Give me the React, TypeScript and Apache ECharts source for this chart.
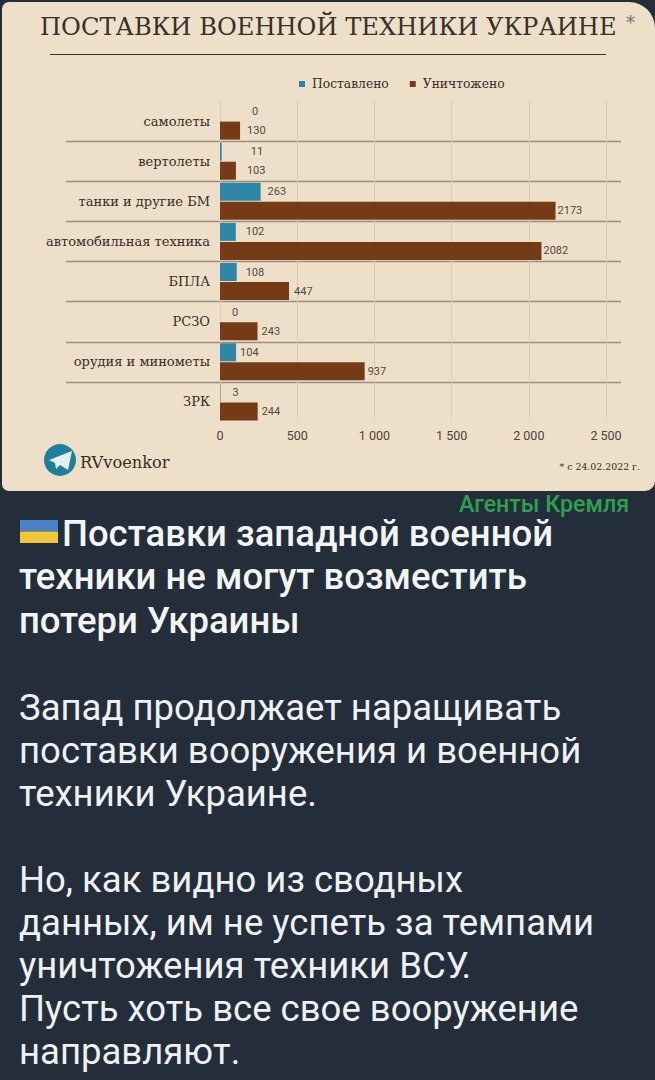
import React, { useEffect, useRef } from "react";
import * as echarts from "echarts";

const categories = ["самолеты", "вертолеты", "танки и другие БМ", "автомобильная техника", "БПЛА", "РСЗО", "орудия и минометы", "ЗРК"];
const delivered = [0, 11, 263, 102, 108, 0, 104, 3];
const destroyed = [130, 103, 2173, 2082, 447, 243, 937, 244];
const deliveredLabelGap = [32, 29, 7, 10, 9, 12, 4, 12];
const destroyedLabelGap = [7, 11, 2, 2, 5, 4, 3, 4];
const seriesNames = ["Поставлено", "Уничтожено"];
const title = "ПОСТАВКИ ВОЕННОЙ ТЕХНИКИ УКРАИНЕ";
const boldLines = ["Поставки западной военной", "техники не могут возместить", "потери Украины"];
const bodyLines = [
  "Запад продолжает наращивать",
  "поставки вооружения и военной",
  "техники Украине.",
  "",
  "Но, как видно из сводных",
  "данных, им не успеть за темпами",
  "уничтожения техники ВСУ.",
  "Пусть хоть все свое вооружение",
  "направляют.",
];

const SLAB = "'DejaVu Serif', serif";
const SANS = "Roboto, sans-serif";
const INK = "#332e27";

export default function App() {
  const ref = useRef<HTMLDivElement>(null);
  useEffect(() => {
    document.body.style.margin = "0";
    const chart = echarts.init(ref.current!, undefined, { renderer: "svg" });
    const txt = (text: string, x: number, y: number, font: any) => ({
      type: "text",
      x,
      y,
      silent: true,
      style: { text, fill: INK, fontFamily: SLAB, verticalAlign: "middle", ...font },
    });
    const mk = (vals: number[], gaps: number[]) =>
      vals.map((value, i) => ({ value, label: { distance: gaps[i] } }));
    const barLabel = {
      show: true,
      position: "right",
      fontFamily: SANS,
      fontSize: 11,
      color: "#4f4a44",
    };
    chart.setOption({
      animation: false,
      backgroundColor: "#232e3a",
      legend: {
        left: 294,
        top: 73,
        itemWidth: 6,
        itemHeight: 6,
        itemGap: 21,
        icon: "rect",
        selectedMode: false,
        data: seriesNames,
        textStyle: { fontFamily: SLAB, fontSize: 12.3, color: INK, padding: [0, 0, 0, 2] },
      },
      grid: [
        { left: 220, top: 101, width: 386, height: 321 },
        { left: 66, top: 101, width: 555, height: 321 },
      ],
      xAxis: [
        {
          type: "value",
          gridIndex: 0,
          min: 0,
          max: 2500,
          interval: 500,
          axisLine: { show: false },
          axisTick: { show: false },
          splitLine: { lineStyle: { color: "#dccdb7", width: 1 } },
          axisLabel: {
            margin: 7,
            fontFamily: SANS,
            fontSize: 12.5,
            color: "#4a453e",
            formatter: (v: number) => (v >= 1000 ? `${Math.floor(v / 1000)} ${String(v % 1000).padStart(3, "0")}` : `${v}`),
          },
        },
        { type: "value", gridIndex: 1, min: 0, max: 1, show: false },
      ],
      yAxis: [
        {
          type: "category",
          gridIndex: 0,
          inverse: true,
          data: categories,
          axisLine: { show: false },
          axisTick: { show: false },
          splitLine: { show: false },
          axisLabel: { margin: 10, fontFamily: SLAB, fontSize: 13, color: INK },
        },
        {
          type: "category",
          gridIndex: 1,
          inverse: true,
          data: categories,
          axisLine: { show: false },
          axisTick: { show: false },
          axisLabel: { show: false },
          splitLine: { show: true, showMinLine: false, showMaxLine: false, lineStyle: { color: "#9b8e7e", width: 1.4 } },
        },
      ],
      series: [
        {
          name: seriesNames[0],
          type: "bar",
          xAxisIndex: 0,
          yAxisIndex: 0,
          z: 3,
          barWidth: 18,
          barGap: "6%",
          itemStyle: { color: "#2d86a5" },
          label: barLabel,
          data: mk(delivered, deliveredLabelGap),
        },
        {
          name: seriesNames[1],
          type: "bar",
          xAxisIndex: 0,
          yAxisIndex: 0,
          z: 3,
          barWidth: 18,
          barGap: "6%",
          itemStyle: { color: "#753b17" },
          label: barLabel,
          data: mk(destroyed, destroyedLabelGap),
        },
      ],
      graphic: [
        {
          type: "group",
          silent: true,
          z: -1,
          children: [
            { type: "rect", shape: { x: 2, y: 2, width: 653, height: 489, r: [7, 26, 10, 7] }, style: { fill: "#eedfc9" } },
            { type: "line", shape: { x1: 50, y1: 54.5, x2: 606, y2: 54.5 }, style: { stroke: "#35312b", lineWidth: 1 } },
          ],
        },
        {
          type: "group",
          silent: true,
          z: 5,
          children: [
            txt(title, 40, 27, { fontSize: 24.2, fill: "#35312b" }),
            txt("*", 626, 22, { fontSize: 18, fill: "#77716a" }),
            { type: "circle", shape: { cx: 60, cy: 460, r: 16 }, style: { fill: "#1c7f9c" } },
            { type: "polygon", shape: { points: [[49, 460], [72, 451], [68, 470], [60, 465], [56, 469], [55, 463]] }, style: { fill: "#e8eef0" } },
            txt("RVvoenkor", 80, 462, { fontSize: 16.2 }),
            txt("* с 24.02.2022 г.", 640, 466, { fontSize: 9.4, align: "right" }),
            txt("Агенты Кремля", 459, 504, { fontFamily: SANS, fontSize: 23.2, fontWeight: 500, fill: "#2ea14f" }),
            { type: "rect", shape: { x: 20, y: 520, width: 38, height: 11.5 }, style: { fill: "#4a82c8" } },
            { type: "rect", shape: { x: 20, y: 531.5, width: 38, height: 11.5 }, style: { fill: "#f0c63a" } },
            ...boldLines.map((t, i) =>
              txt(t, i === 0 ? 62 : 19, 533 + i * 43.5, { fontFamily: SANS, fontSize: 36.5, fontWeight: 500, fill: "#f2f4f6" })
            ),
            ...bodyLines.map((t, i) =>
              txt(t, 19, 707 + i * 43, { fontFamily: SANS, fontSize: 36.5, fill: "#eef0f2" })
            ),
          ],
        },
      ],
    });
    return () => chart.dispose();
  }, []);
  return <div ref={ref} style={{ width: 655, height: 1080 }} />;
}
